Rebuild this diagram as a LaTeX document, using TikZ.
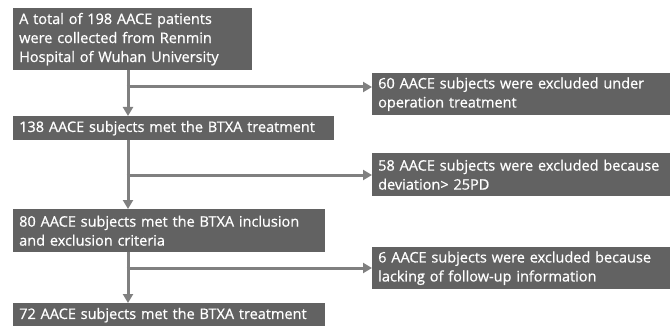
\documentclass[tikz,border=0pt]{standalone}
\usepackage{fontspec}
\setmainfont{Open Sans}[FakeBold=0.7]
\usepackage{xcolor}
\usetikzlibrary{arrows.meta, positioning}
\definecolor{boxgray}{HTML}{626262}
\definecolor{linegray}{HTML}{808080}

\begin{document}
\begin{tikzpicture}[x=1pt, y=-1pt, >={Triangle[width=10pt, length=9pt]},
    box/.style={fill=boxgray, text=white, anchor=north west, align=left,
        inner xsep=6pt, inner ysep=2pt, font=\fontsize{14.5}{19}\selectfont},
    flow/.style={draw=linegray, line width=3pt, ->}]
    \useasboundingbox (0,0) rectangle (671,326);
    % 1. Cot ben trai
    \node[box, text width=227pt, minimum height=62pt] (total) at (13,8)
        {A total of 198 AACE patients\\were collected from Renmin\\Hospital of Wuhan University};
    \node[box, text width=309pt, minimum height=24pt] (treat) at (13,116)
        {138 AACE subjects met the BTXA treatment};
    \node[box, text width=300pt, minimum height=43pt] (incl) at (13,209)
        {80 AACE subjects met the BTXA inclusion\\and exclusion criteria};
    \node[box, text width=300pt, minimum height=24pt] (final) at (13,303)
        {72 AACE subjects met the BTXA treatment};
    % 2. Cot ben phai
    \node[box, text width=286pt, minimum height=42pt] (exop) at (372,73)
        {60 AACE subjects were excluded under\\operation treatment};
    \node[box, text width=286pt, minimum height=43pt] (exdev) at (372,153)
        {58 AACE subjects were excluded because\\deviation> 25PD};
    \node[box, text width=286pt, minimum height=42pt] (exlost) at (372,247)
        {6 AACE subjects were excluded because\\lacking of follow-up information};
    % 3. Mui ten
    \coordinate (spine) at (128,0);
    \coordinate (b1) at (128,87);
    \coordinate (b2) at (128,175);
    \coordinate (b3) at (128,268);
    \draw[flow] (total.south -| spine) -- (treat.north -| spine);
    \draw[flow] (treat.south -| spine) -- (incl.north -| spine);
    \draw[flow] (incl.south -| spine) -- (final.north -| spine);
    \draw[flow] ([xshift=-1.5pt]b1) -- (b1 -| exop.west);
    \draw[flow] ([xshift=-1.5pt]b2) -- (b2 -| exdev.west);
    \draw[flow] ([xshift=-1.5pt]b3) -- (b3 -| exlost.west);
\end{tikzpicture}
\end{document}
